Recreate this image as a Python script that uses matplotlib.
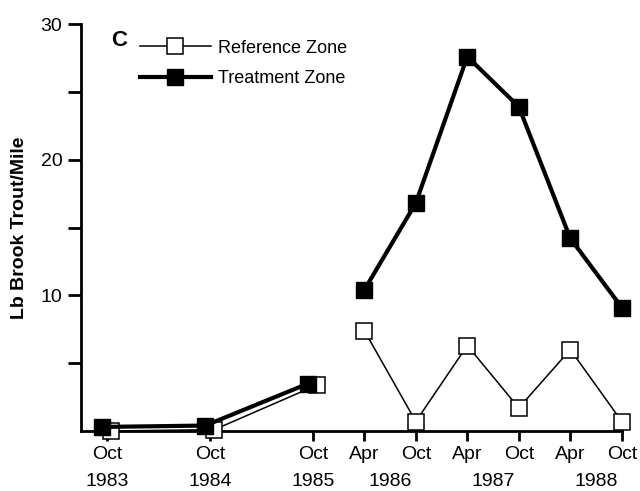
import matplotlib.pyplot as plt
import matplotlib.transforms as mtransforms

plt.rcParams['font.family'] = ['Liberation Sans', 'DejaVu Sans']

# sampling dates as decimal years (Apr = .25, Oct = .75)
early_x = [1983.75, 1984.75, 1985.75]
late_x = [1986.25, 1986.75, 1987.25, 1987.75, 1988.25, 1988.75]

ref_early = [0.0, 0.1, 3.4]
ref_late = [7.4, 0.7, 6.3, 1.7, 6.0, 0.7]
trt_early = [0.3, 0.4, 3.5]
trt_late = [10.4, 16.8, 27.6, 23.9, 14.2, 9.1]

tick_x = early_x + late_x
month_labels = ['Oct', 'Oct', 'Oct', 'Apr', 'Oct', 'Apr', 'Oct', 'Apr', 'Oct']
years = ['1983', '1984', '1985', '1986', '1987', '1988']
year_x = [1983.75, 1984.75, 1985.75, 1986.5, 1987.5, 1988.5]

fig = plt.figure(figsize=(6.4, 4.91), dpi=100)
ax = fig.add_axes([0.1266, 0.1222, 0.845, 0.8289])

# the overlapping early points are nudged apart, as in the original
left = mtransforms.offset_copy(ax.transData, fig=fig, x=-3.3, y=0, units='points')
right = mtransforms.offset_copy(ax.transData, fig=fig, x=3.3, y=0, units='points')

ref_style = dict(color='black', lw=1.1, marker='s', ms=11.5, mfc='white', mec='black', mew=1.1)
trt_style = dict(color='black', lw=3.0, marker='s', ms=11.5, mfc='black', mec='black')

ax.plot(early_x, ref_early, transform=right, clip_on=False, zorder=3, **ref_style)
ax.plot(late_x, ref_late, clip_on=False, zorder=3, label='Reference Zone', **ref_style)
ax.plot(early_x, trt_early, transform=left, clip_on=False, zorder=4, **trt_style)
ax.plot(late_x, trt_late, clip_on=False, zorder=4, label='Treatment Zone', **trt_style)

ax.set_xlim(1983.5, 1988.75)
ax.set_ylim(0, 30)

for s in ['top', 'right']:
    ax.spines[s].set_visible(False)
for s in ['left', 'bottom']:
    ax.spines[s].set_linewidth(2)

ax.set_xticks(tick_x)
ax.set_xticklabels(month_labels, fontsize=14)
ax.set_yticks([5, 10, 15, 20, 25, 30])
ax.set_yticklabels(['', '10', '', '20', '', '30'], fontsize=14)
ax.tick_params(axis='y', direction='out', width=2, length=9.5, pad=4)
ax.tick_params(axis='x', direction='out', width=2, length=7, pad=4)

for yx, yl in zip(year_x, years):
    ax.text(yx, -0.104, yl, transform=ax.get_xaxis_transform(), ha='center', va='top', fontsize=14)

ax.set_ylabel('Lb Brook Trout/Mile', fontsize=14, fontweight='bold')
ax.yaxis.set_label_coords(-0.098, 0.5)

ax.text(1983.87, 28.8, 'C', fontsize=16, fontweight='bold', ha='center', va='center')
ax.legend(loc='upper left', bbox_to_anchor=(0.219, 0.919), bbox_transform=fig.transFigure,
          frameon=False, fontsize=13, borderpad=0, borderaxespad=0,
          handlelength=3.9, handletextpad=0.4, labelspacing=0.75)

fig.savefig('out.png', dpi=100)
